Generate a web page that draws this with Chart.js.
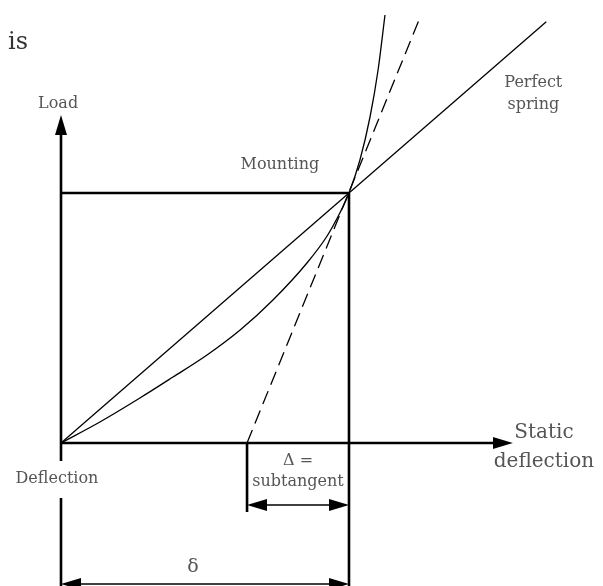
<!DOCTYPE html>
<html>
<head>
<meta charset="utf-8">
<script src="https://cdn.jsdelivr.net/npm/chart.js@4.4.1/dist/chart.umd.min.js"></script>
<style>
  html, body { margin: 0; padding: 0; background: #fff; }
  #wrap { width: 603px; height: 586px; }
</style>
</head>
<body>
<div id="wrap"><canvas id="springChart" width="603" height="586"></canvas></div>
<script>
// Load vs static deflection of a hardening mount (arbitrary units, mounting point at 10/10)
const curveDeflection = [0, 1.35, 2.74, 3.89, 5.07, 6.22, 7.36, 8.54, 9.24, 9.69, 10, 10.38, 10.73, 11.01, 11.25];
const curveLoad       = [0, 0.84, 1.80, 2.64, 3.52, 4.52, 5.72, 7.20, 8.28, 9.22, 10, 11.32, 13.04, 14.92, 17.12];

// perfect (linear) spring through the mounting point
const springDeflection = [0, 16.85];
const springLoad       = [0, 16.85];

// tangent to the curve at the mounting point
const tangentDeflection = [6.46, 12.5];
const tangentLoad       = [0, 17.12];

const mountDeflection = 10;
const mountLoad = 10;
const subtangentStart = 6.46;

const loadAxisEnd = 13.12;
const deflAxisEnd = 15.69;

// Text on the drawing
const textLabels = [
    { text: 'is', x: -1.84, y: 16.0, size: 24, align: 'left', color: '#333' },
    { text: 'Load', x: -0.1, y: 13.56, size: 16 },
    { text: 'Mounting', x: 7.6, y: 11.12, size: 16 },
    { text: 'Perfect', x: 16.4, y: 14.4, size: 16 },
    { text: 'spring', x: 16.4, y: 13.52, size: 16 },
    { text: 'Static', x: 16.77, y: 0.4, size: 20 },
    { text: 'deflection', x: 16.77, y: -0.76, size: 20 },
    { text: 'Deflection', x: -0.14, y: -1.44, size: 16 },
    { text: '\u0394 =', x: 8.23, y: -0.72, size: 16 },
    { text: 'subtangent', x: 8.23, y: -1.56, size: 16 },
    { text: '\u03b4', x: 4.58, y: -4.96, size: 19 }
];

function pts(xs, ys) {
    return xs.map((x, i) => ({ x: x, y: ys[i] }));
}

function line(xs, ys, width, extra) {
    return Object.assign({
        data: pts(xs, ys),
        showLine: true,
        borderColor: '#000',
        borderWidth: width,
        pointRadius: 0,
        fill: false
    }, extra || {});
}

// filled arrow head, tip sits at the canvas centre so the point value is the tip
function arrowHead(len, wid) {
    const c = document.createElement('canvas');
    c.width = len * 2;
    c.height = wid;
    const g = c.getContext('2d');
    g.fillStyle = '#000';
    g.beginPath();
    g.moveTo(0, 0);
    g.lineTo(len, wid / 2);
    g.lineTo(0, wid);
    g.closePath();
    g.fill();
    return c;
}

const arrow = arrowHead(20, 12);
const dimLow = -2.48;    // subtangent dimension line
const dimBottom = -5.64; // delta dimension line
const below = -5.9;

const arrowTips = [
    { x: 0, y: loadAxisEnd, rot: -90 },
    { x: deflAxisEnd, y: 0, rot: 0 },
    { x: subtangentStart, y: dimLow, rot: 180 },
    { x: mountDeflection, y: dimLow, rot: 0 },
    { x: 0, y: dimBottom, rot: 180 },
    { x: mountDeflection, y: dimBottom, rot: 0 }
];

const labelPlugin = {
    id: 'labels',
    afterDatasetsDraw(chart) {
        const ctx = chart.ctx;
        const xs = chart.scales.x, ys = chart.scales.y;
        ctx.save();
        textLabels.forEach(l => {
            ctx.font = l.size + 'px "DejaVu Serif"';
            ctx.fillStyle = l.color || '#555';
            ctx.textAlign = l.align || 'center';
            ctx.textBaseline = 'middle';
            ctx.fillText(l.text, xs.getPixelForValue(l.x), ys.getPixelForValue(l.y));
        });
        ctx.restore();
    }
};

document.addEventListener('DOMContentLoaded', function() {
    const ctx = document.getElementById('springChart');
    new Chart(ctx, {
        type: 'scatter',
        data: {
            datasets: [
                {
                    data: arrowTips.map(a => ({ x: a.x, y: a.y })),
                    pointStyle: arrow,
                    pointRotation: arrowTips.map(a => a.rot),
                    pointRadius: 6,
                    showLine: false
                },
                // axes and construction lines
                line([0, 0], [0, loadAxisEnd - 0.6], 2.6),
                line([0, deflAxisEnd - 0.6], [0, 0], 2.6),
                line([0, 0], [0, -0.72], 2.6),
                line([0, 0], [-2.2, below], 2.6),
                line([0, mountDeflection], [mountLoad, mountLoad], 2.6),
                line([mountDeflection, mountDeflection], [mountLoad, below], 2.6),
                line([subtangentStart, subtangentStart], [0, -2.76], 2.6),
                // dimension lines
                line([subtangentStart + 0.5, mountDeflection - 0.5], [dimLow, dimLow], 1.3),
                line([0.5, mountDeflection - 0.5], [dimBottom, dimBottom], 1.3),
                // curves
                line(springDeflection, springLoad, 1.3),
                line(tangentDeflection, tangentLoad, 1.3, { borderDash: [14, 7] }),
                line(curveDeflection, curveLoad, 1.3, { cubicInterpolationMode: 'monotone' })
            ]
        },
        options: {
            responsive: false,
            animation: false,
            events: [],
            layout: { padding: 0, autoPadding: false },
            plugins: {
                legend: { display: false },
                tooltip: { enabled: false }
            },
            scales: {
                x: { type: 'linear', min: -2.118, max: 18.82, display: false },
                y: { type: 'linear', min: -5.72, max: 17.72, display: false }
            }
        },
        plugins: [labelPlugin]
    });
});
</script>
</body>
</html>
